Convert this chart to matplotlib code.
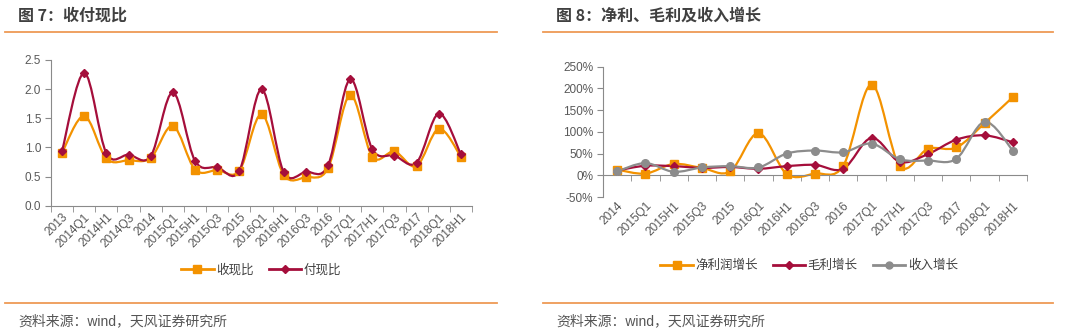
import numpy as np
import matplotlib
matplotlib.use('Agg')
import matplotlib.pyplot as plt
from matplotlib.path import Path
from matplotlib.patches import PathPatch
from matplotlib.lines import Line2D
from matplotlib.ticker import FixedLocator, FuncFormatter

plt.rcParams['font.family'] = ['Liberation Sans', 'Noto Sans CJK SC', 'DejaVu Sans']

# 图7 收付现比
periodos_7 = ['2013', '2014Q1', '2014H1', '2014Q3', '2014', '2015Q1', '2015H1', '2015Q3',
              '2015', '2016Q1', '2016H1', '2016Q3', '2016', '2017Q1', '2017H1', '2017Q3',
              '2017', '2018Q1', '2018H1']
shouxian = [0.91, 1.54, 0.81, 0.78, 0.82, 1.37, 0.62, 0.61, 0.60, 1.57, 0.53, 0.49,
            0.64, 1.90, 0.84, 0.93, 0.68, 1.32, 0.84]
fuxian = [0.94, 2.28, 0.90, 0.875, 0.85, 1.945, 0.77, 0.66, 0.60, 2.00, 0.58, 0.58,
          0.69, 2.17, 0.97, 0.86, 0.74, 1.58, 0.88]

# 图8 净利、毛利及收入增长 (%)
periodos_8 = ['2014', '2015Q1', '2015H1', '2015Q3', '2015', '2016Q1', '2016H1', '2016Q3',
              '2016', '2017Q1', '2017H1', '2017Q3', '2017', '2018Q1', '2018H1']
jinglirun = [13, 4, 26, 17, 9, 97, 3, 4, 22, 209, 21, 61, 64, 120, 180]
maoli = [11, 22, 21, 17, 19, 15, 21, 24, 15, 86, 31, 49, 82, 92, 76]
shouru = [9, 28, 8, 18, 21, 18, 50, 57, 53, 73, 37, 34, 38, 123, 57]

NARANJA = '#F39200'
GRANATE = '#A50E3B'
GRIS = '#8C8C8C'
EJE = '#8A8A8A'
TEXTO = '#595959'
LINEA_TITULO = '#EE9A55'


def curva_suave(ax, xs, ys, color):
    # curva tipo Excel: bezier con puntos de control de Catmull-Rom
    p = np.column_stack([xs, ys]).astype(float)
    n = len(p)
    verts = [p[0]]
    codes = [Path.MOVETO]
    for i in range(n - 1):
        p0 = p[i - 1] if i > 0 else p[i]
        p3 = p[i + 2] if i + 2 < n else p[i + 1]
        c1 = p[i] + (p[i + 1] - p0) / 6.0
        c2 = p[i + 1] - (p3 - p[i]) / 6.0
        verts += [c1, c2, p[i + 1]]
        codes += [Path.CURVE4] * 3
    ax.add_patch(PathPatch(Path(verts, codes), facecolor='none', edgecolor=color,
                           lw=1.6, zorder=2))


def preparar_eje(ax, etiquetas, pad_x=4):
    n = len(etiquetas)
    ax.set_xlim(-0.5, n - 0.5)
    for lado in ['top', 'right']:
        ax.spines[lado].set_visible(False)
    ax.spines['left'].set_color(EJE)
    ax.spines['bottom'].set_color(EJE)
    ax.tick_params(axis='x', which='major', length=0, pad=pad_x)
    ax.tick_params(axis='x', which='minor', length=4, color=EJE, direction='out')
    ax.tick_params(axis='y', length=4, color=EJE, labelsize=8.5, labelcolor=TEXTO, pad=3)
    ax.xaxis.set_major_locator(FixedLocator(range(n)))
    ax.xaxis.set_minor_locator(FixedLocator(np.arange(-0.5, n, 1.0)))
    ax.set_xticklabels(etiquetas, rotation=45, ha='right', rotation_mode='anchor',
                       fontsize=8.6, color=TEXTO)


fig = plt.figure(figsize=(10.8, 3.34), dpi=100)

# encabezados y pies
for x0, x1, titulo in [(5, 497, '图 7：收付现比'), (543, 1053, '图 8：净利、毛利及收入增长')]:
    fig.add_artist(Line2D([x0 / 1080, x1 / 1080], [1 - 32 / 334] * 2, color=LINEA_TITULO, lw=1.3))
    fig.add_artist(Line2D([x0 / 1080, x1 / 1080], [1 - 303 / 334] * 2, color=LINEA_TITULO, lw=1.3))
    fig.text((x0 + 13) / 1080, 1 - 16 / 334, titulo, fontsize=11.5, fontweight='bold',
             color='#404040', va='center', ha='left', family=['Noto Sans CJK SC'])
    fig.text((x0 + 13) / 1080, 1 - 321 / 334, '资料来源：wind，天风证券研究所', fontsize=10,
             color='#555555', va='center', ha='left', family=['Liberation Sans', 'Noto Sans CJK SC'])

# grafico 7
ax1 = fig.add_axes([51 / 1080, 128.3 / 334, 421 / 1080, 145.7 / 334])
preparar_eje(ax1, periodos_7)
ax1.set_ylim(0, 2.5)
ax1.set_yticks(np.arange(0, 2.51, 0.5))
ax1.yaxis.set_major_formatter(FuncFormatter(lambda v, _: f'{v:.1f}'))
x7 = np.arange(len(periodos_7))
curva_suave(ax1, x7, shouxian, NARANJA)
curva_suave(ax1, x7, fuxian, GRANATE)
ax1.plot(x7, shouxian, ls='none', marker='s', ms=5.5, color=NARANJA, zorder=3)
ax1.plot(x7, fuxian, ls='none', marker='D', ms=4.5, color=GRANATE, zorder=4)
h7 = [Line2D([], [], color=NARANJA, lw=2, marker='s', ms=6),
      Line2D([], [], color=GRANATE, lw=2, marker='D', ms=4)]
fig.legend(h7, ['收现比', '付现比'], loc='center', bbox_to_anchor=(261 / 1080, 1 - 270 / 334),
           ncol=2, frameon=False, fontsize=9, handlelength=2.6, columnspacing=1.2,
           handletextpad=0.2, labelcolor='#404040')

# grafico 8: eje x en 0%, etiquetas por debajo de -50%
pad_8 = 2 + (130.3 * 50 / 300) * 72 / 100
ax2 = fig.add_axes([603 / 1080, 137 / 334, 424 / 1080, 130.3 / 334])
ax2.set_ylim(-50, 250)
ax2.spines['bottom'].set_position(('data', 0))
preparar_eje(ax2, periodos_8, pad_x=pad_8)
ax2.set_yticks(np.arange(-50, 251, 50))
ax2.yaxis.set_major_formatter(FuncFormatter(lambda v, _: f'{v:.0f}%'))
x8 = np.arange(len(periodos_8))
curva_suave(ax2, x8, jinglirun, NARANJA)
curva_suave(ax2, x8, maoli, GRANATE)
curva_suave(ax2, x8, shouru, GRIS)
ax2.plot(x8, jinglirun, ls='none', marker='s', ms=5.5, color=NARANJA, zorder=3)
ax2.plot(x8, maoli, ls='none', marker='D', ms=4.5, color=GRANATE, zorder=4)
ax2.plot(x8, shouru, ls='none', marker='o', ms=5.5, color=GRIS, zorder=5)
h8 = [Line2D([], [], color=NARANJA, lw=2, marker='s', ms=6),
      Line2D([], [], color=GRANATE, lw=2, marker='D', ms=4),
      Line2D([], [], color=GRIS, lw=2, marker='o', ms=5)]
fig.legend(h8, ['净利润增长', '毛利增长', '收入增长'], loc='center',
           bbox_to_anchor=(809 / 1080, 1 - 266 / 334), ncol=3, frameon=False, fontsize=9,
           handlelength=2.6, columnspacing=1.2, handletextpad=0.2, labelcolor='#404040')

fig.savefig('out.png', dpi=100, facecolor='white')
